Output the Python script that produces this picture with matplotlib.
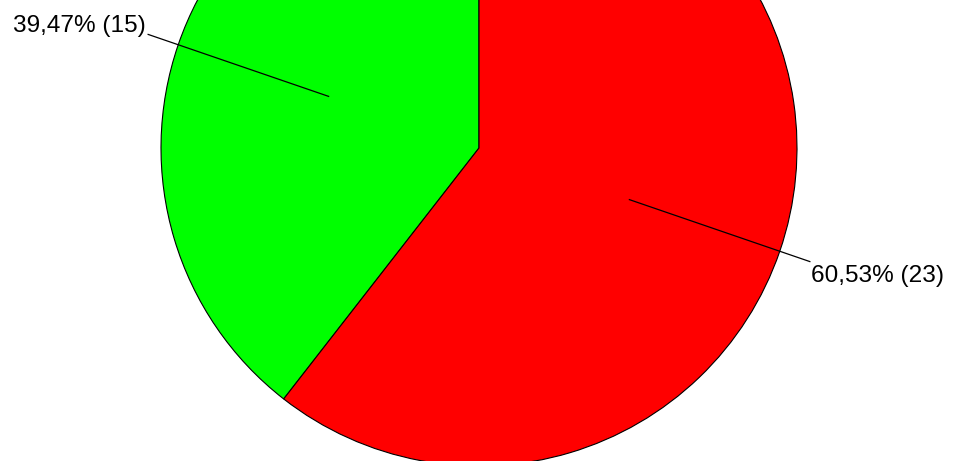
import numpy as np
import matplotlib
matplotlib.use("Agg")
import matplotlib.pyplot as plt

plt.rcParams['font.family'] = ['Liberation Sans', 'DejaVu Sans']

values = [15, 23]
labels = ["39,47% (15)", "60,53% (23)"]
colors = ["#00ff00", "#ff0000"]

W, H = 955, 461
cx, cy, r = 479, H - 148, 318

fig = plt.figure(figsize=(W / 100, H / 100), dpi=100)
ax = fig.add_axes([0, 0, 1, 1])
wedges, _ = ax.pie(values, colors=colors, startangle=90, counterclock=True,
                   center=(cx, cy), radius=r, frame=True,
                   wedgeprops=dict(edgecolor="black", linewidth=0.8))
ax.set_xlim(0, W)
ax.set_ylim(0, H)
ax.set_aspect("equal")
ax.axis("off")

for w, lab in zip(wedges, labels):
    mid = np.deg2rad((w.theta1 + w.theta2) / 2)
    x0, y0 = cx + 0.5 * r * np.cos(mid), cy + 0.5 * r * np.sin(mid)
    x1, y1 = cx + 1.1 * r * np.cos(mid), cy + 1.1 * r * np.sin(mid)
    ax.plot([x0, x1], [y0, y1], color="black", linewidth=0.9)
    if np.cos(mid) < 0:
        ax.text(x1 - 2, y1 - 3, lab, ha="right", va="bottom", fontsize=17.6)
    else:
        ax.text(x1 + 1, y1 - 3, lab, ha="left", va="top", fontsize=17.6)

fig.savefig("out.png", dpi=100)
